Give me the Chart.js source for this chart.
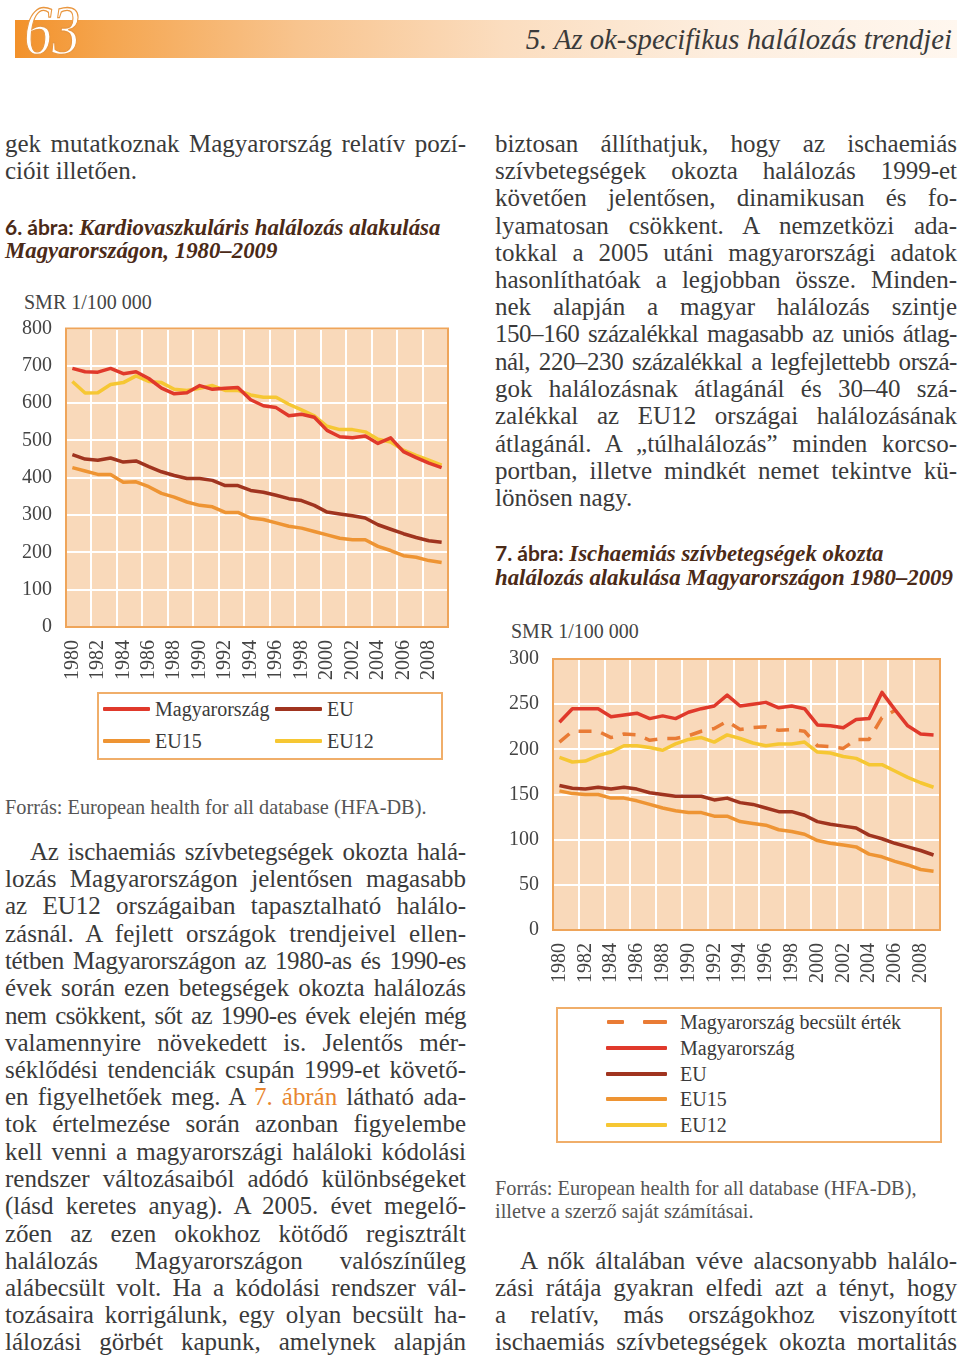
<!DOCTYPE html>
<html lang="hu">
<head>
<meta charset="utf-8">
<script src="https://cdn.jsdelivr.net/npm/chart.js@4.4.1/dist/chart.umd.min.js"></script>
<style>
  html,body{margin:0;padding:0;background:#fff;}
  body{width:960px;height:1361px;position:relative;overflow:hidden;font-family:"Liberation Serif",serif;color:#3a3a3a;}
  .abs{position:absolute;}
  .ln{position:absolute;font-size:25px;line-height:27px;height:27px;box-sizing:border-box;white-space:nowrap;}
  .o{color:#E8862E;}
  .cap{position:absolute;font-size:22.8px;line-height:24px;color:#4B2A17;font-weight:bold;font-style:italic;white-space:nowrap;}
  .cap .n{font-family:Lato,"Open Sans",sans-serif;font-style:normal;font-weight:700;font-size:21px;}
  .src{position:absolute;font-size:20.3px;line-height:23px;color:#555;white-space:nowrap;}
  .unit{position:absolute;font-size:20px;line-height:22px;color:#444;white-space:nowrap;}
  .legend{position:absolute;border:2px solid #F0AE6A;box-sizing:border-box;background:#fff;}
  .lg{position:absolute;font-size:20px;line-height:22px;color:#3a3a3a;white-space:nowrap;}
  .sw{position:absolute;height:4px;border-radius:1px;}
</style>
</head>
<body>
<!-- header -->
<div class="abs" style="left:15px;top:20px;width:942px;height:38px;background:linear-gradient(to right,#F2912A 0%,#F5A650 10%,#F8C48E 30%,#FBDDBF 52%,#FDEEDF 75%,#FFF7EF 100%);"></div>
<div class="abs" style="left:24px;top:-4px;font-size:70px;line-height:70px;font-style:italic;color:#fff;-webkit-text-stroke:1.3px #E9963F;transform:scaleX(0.8);transform-origin:left top;">63</div>
<div class="abs" style="right:8px;top:21px;font-size:28.7px;line-height:36px;font-style:italic;color:#3a3a3a;white-space:nowrap;">5. Az ok-specifikus halálozás trendjei</div>

<div class="cap" style="left:5px;top:215px;"><span class="n">6. ábra:</span> Kardiovaszkuláris halálozás alakulása</div>
<div class="cap" style="left:5px;top:239px;">Magyarországon, 1980–2009</div>
<div class="cap" style="left:495px;top:541px;"><span class="n">7. ábra:</span> Ischaemiás szívbetegségek okozta</div>
<div class="cap" style="left:495px;top:566px;">halálozás alakulása Magyarországon 1980–2009</div>

<div class="unit" style="left:24px;top:291px;">SMR 1/100 000</div>
<div class="unit" style="left:511px;top:620px;">SMR 1/100 000</div>

<div class="abs" style="left:0;top:310px;width:460px;height:380px;"><canvas id="c1" width="460" height="380"></canvas></div>
<div class="abs" style="left:495px;top:640px;width:460px;height:360px;"><canvas id="c2" width="460" height="360"></canvas></div>

<!-- legend 1 -->
<div class="legend" style="left:97px;top:692px;width:346px;height:68px;"></div>
<div class="sw" style="left:103px;top:707px;width:47px;background:#E0392B;"></div>
<div class="lg" style="left:155px;top:698px;">Magyarország</div>
<div class="sw" style="left:275px;top:707px;width:47px;background:#A0341F;"></div>
<div class="lg" style="left:327px;top:698px;">EU</div>
<div class="sw" style="left:103px;top:739px;width:47px;background:#EE9433;"></div>
<div class="lg" style="left:155px;top:730px;">EU15</div>
<div class="sw" style="left:275px;top:739px;width:47px;background:#F6C733;"></div>
<div class="lg" style="left:327px;top:730px;">EU12</div>

<!-- legend 2 -->
<div class="legend" style="left:556px;top:1007px;width:386px;height:136px;"></div>
<div class="sw" style="left:607px;top:1020px;width:17px;background:#E97B35;"></div>
<div class="sw" style="left:643px;top:1020px;width:24px;background:#E97B35;"></div>
<div class="lg" style="left:680px;top:1011px;">Magyarország becsült érték</div>
<div class="sw" style="left:606px;top:1046px;width:61px;background:#E0392B;"></div>
<div class="lg" style="left:680px;top:1037px;">Magyarország</div>
<div class="sw" style="left:606px;top:1072px;width:61px;background:#A0341F;"></div>
<div class="lg" style="left:680px;top:1063px;">EU</div>
<div class="sw" style="left:606px;top:1097px;width:61px;background:#EE9433;"></div>
<div class="lg" style="left:680px;top:1088px;">EU15</div>
<div class="sw" style="left:606px;top:1123px;width:61px;background:#F6C733;"></div>
<div class="lg" style="left:680px;top:1114px;">EU12</div>

<div class="src" style="left:5px;top:796px;">Forrás: European health for all database (HFA-DB).</div>
<div class="src" style="left:495px;top:1177px;">Forrás: European health for all database (HFA-DB),</div>
<div class="src" style="left:495px;top:1200px;">illetve a szerző saját számításai.</div>

<div id="text"></div>

<script>
// ---------- DATA ----------
const years = ['1980','1981','1982','1983','1984','1985','1986','1987','1988','1989',
               '1990','1991','1992','1993','1994','1995','1996','1997','1998','1999',
               '2000','2001','2002','2003','2004','2005','2006','2007','2008','2009'];
const tickLabels = ['1980','1982','1984','1986','1988','1990','1992','1994','1996','1998','2000','2002','2004','2006','2008'];

// Figure 6: cardiovascular mortality (SMR per 100 000)
const cvHungary = [693,684,683,693,679,684,666,640,625,628,647,637,640,642,609,593,588,566,570,562,527,510,507,512,492,507,470,454,439,427];
const cvEU      = [462,450,447,453,442,445,430,416,406,398,398,393,379,379,366,361,353,344,339,326,308,303,298,292,274,262,250,240,231,227];
const cvEU15    = [427,418,409,409,388,389,376,358,348,335,326,322,307,307,292,288,279,270,265,256,247,238,234,234,216,205,191,187,178,173];
const cvEU12    = [658,627,628,650,655,673,658,655,637,634,640,647,634,634,622,616,616,597,582,566,538,529,529,523,503,496,474,460,447,434];
const cvTicksY  = [0,100,200,300,400,500,600,700,800];

// Figure 7: ischaemic heart disease mortality (SMR per 100 000)
const ihdHungaryEst = [208,220,220,220,213,217,216,210,212,212,215,220,223,231,222,224,225,221,222,220,204,203,201,211,211,235,243,null,null,null];
const ihdHungary    = [230,245,245,245,236,238,240,234,237,234,241,245,248,260,248,250,252,246,248,245,227,226,224,233,234,263,244,226,217,216];
const ihdEU         = [160,157,156,158,156,158,156,152,150,148,148,148,144,146,141,139,135,131,131,127,120,117,115,113,105,101,96,92,88,83];
const ihdEU15       = [154,151,150,150,146,146,143,139,135,132,130,130,126,126,120,118,116,111,109,106,99,96,94,92,84,81,76,72,67,65];
const ihdEU12       = [191,186,187,193,197,204,204,202,199,206,211,213,208,216,212,207,204,206,206,208,197,196,192,190,183,183,176,169,163,158];
const ihdTicksY     = [0,50,100,150,200,250,300];

// ---------- STYLE ----------
const C = {red:'#E0392B', brown:'#A0341F', orange:'#EE9433', yellow:'#F6C733', est:'#E97B35',
           plot:'#F9D9BA', frame:'#EFA55A', grid:'#FFFFFF', tick:'#444'};
const TICK_FONT = {family:'"Liberation Serif", serif', size:20};

const framePlugin = {
  id:'frame',
  beforeDraw(chart){
    const {ctx, chartArea:a} = chart;
    ctx.save(); ctx.fillStyle = C.plot; ctx.fillRect(a.left, a.top, a.width, a.height); ctx.restore();
  },
  beforeDatasetsDraw(chart){
    const {ctx, chartArea:a} = chart;
    ctx.save(); ctx.strokeStyle = C.frame; ctx.lineWidth = 2;
    ctx.strokeRect(a.left, a.top, a.width, a.height); ctx.restore();
  }
};

function lineDs(label, data, color, extra){
  return Object.assign({label, data, borderColor:color, backgroundColor:color, borderWidth:3.5,
    pointRadius:0, tension:0, fill:false, borderJoinStyle:'round', spanGaps:false}, extra||{});
}

function makeChart(id, datasets, yMax, yStep, padTop, padRight, yWidth, xHeight){
  return new Chart(document.getElementById(id), {
    type:'line',
    data:{labels:years, datasets},
    options:{
      responsive:false, animation:false,
      layout:{padding:{top:padTop, right:padRight, left:0, bottom:0}},
      plugins:{legend:{display:false}, tooltip:{enabled:false}},
      scales:{
        x:{
          offset:true,
          grid:{offset:true, drawTicks:false, lineWidth:2,
                color:ctx => (ctx.index % 2 === 0 ? C.grid : 'rgba(0,0,0,0)')},
          border:{display:false},
          ticks:{autoSkip:false, maxRotation:90, minRotation:90, padding:13, color:C.tick, font:TICK_FONT,
                 callback:(v, i) => (tickLabels.includes(years[i]) ? years[i] : '')},
          afterFit:s => { s.height = xHeight; s.paddingLeft = 0; s.paddingRight = 0; }
        },
        y:{
          min:0, max:yMax,
          grid:{drawTicks:false, lineWidth:2, color:C.grid},
          border:{display:false},
          ticks:{stepSize:yStep, padding:14, color:C.tick, font:TICK_FONT},
          afterFit:s => { s.width = yWidth; s.paddingTop = 0; s.paddingBottom = 0; }
        }
      }
    },
    plugins:[framePlugin]
  });
}

makeChart('c1', [
  lineDs('Magyarország', cvHungary, C.red, {order:0}),
  lineDs('EU12', cvEU12, C.yellow, {order:1}),
  lineDs('EU', cvEU, C.brown, {order:2}),
  lineDs('EU15', cvEU15, C.orange, {order:3})
], cvTicksY[cvTicksY.length-1], cvTicksY[1]-cvTicksY[0], 18.5, 12, 66, 63);

makeChart('c2', [
  lineDs('Magyarország', ihdHungary, C.red, {order:0}),
  lineDs('Magyarország becsült érték', ihdHungaryEst, C.est, {order:1, borderDash:[13,10], borderCapStyle:'butt'}),
  lineDs('EU12', ihdEU12, C.yellow, {order:2}),
  lineDs('EU', ihdEU, C.brown, {order:3}),
  lineDs('EU15', ihdEU15, C.orange, {order:4})
], ihdTicksY[ihdTicksY.length-1], ihdTicksY[1]-ihdTicksY[0], 19, 15, 58, 70);

// ---------- BODY TEXT ----------
const leftTop = [
  [147,'gek mutatkoznak Magyarország relatív pozí-','j',0],
  [174,'cióit illetően.','l',0]
];
const leftPara = [
  [855,'Az ischaemiás szívbetegségek okozta halá-','j',25],
  [882,'lozás Magyarországon jelentősen magasabb','j',0],
  [909,'az EU12 országaiban tapasztalható halálo-','j',0],
  [937,'zásnál. A fejlett országok trendjeivel ellen-','j',0],
  [964,'tétben Magyarországon az 1980-as és 1990-es','j',0],
  [991,'évek során ezen betegségek okozta halálozás','j',0],
  [1019,'nem csökkent, sőt az 1990-es évek elején még','j',0],
  [1046,'valamennyire növekedett is. Jelentős mér-','j',0],
  [1073,'séklődési tendenciák csupán 1999-et követő-','j',0],
  [1100,'en figyelhetőek meg. A <span class="o">7. ábrán</span> látható ada-','j',0],
  [1127,'tok értelmezése során azonban figyelembe','j',0],
  [1155,'kell venni a magyarországi haláloki kódolási','j',0],
  [1182,'rendszer változásaiból adódó különbségeket','j',0],
  [1209,'(lásd keretes anyag). A 2005. évet megelő-','j',0],
  [1237,'zően az ezen okokhoz kötődő regisztrált','j',0],
  [1264,'halálozás Magyarországon valószínűleg','j',0],
  [1291,'alábecsült volt. Ha a kódolási rendszer vál-','j',0],
  [1318,'tozásaira korrigálunk, egy olyan becsült ha-','j',0],
  [1345,'lálozási görbét kapunk, amelynek alapján','j',0]
];
const rightTop = [
  [147,'biztosan állíthatjuk, hogy az ischaemiás','j',0],
  [174,'szívbetegségek okozta halálozás 1999-et','j',0],
  [201,'követően jelentősen, dinamikusan és fo-','j',0],
  [229,'lyamatosan csökkent. A nemzetközi ada-','j',0],
  [256,'tokkal a 2005 utáni magyarországi adatok','j',0],
  [283,'hasonlíthatóak a legjobban össze. Minden-','j',0],
  [310,'nek alapján a magyar halálozás szintje','j',0],
  [337,'150–160 százalékkal magasabb az uniós átlag-','j',0],
  [365,'nál, 220–230 százalékkal a legfejlettebb orszá-','j',0],
  [392,'gok halálozásnak átlagánál és 30–40 szá-','j',0],
  [419,'zalékkal az EU12 országai halálozásának','j',0],
  [447,'átlagánál. A „túlhalálozás” minden korcso-','j',0],
  [474,'portban, illetve mindkét nemet tekintve kü-','j',0],
  [501,'lönösen nagy.','l',0]
];
const rightPara = [
  [1264,'A nők általában véve alacsonyabb halálo-','j',25],
  [1291,'zási rátája gyakran elfedi azt a tényt, hogy','j',0],
  [1318,'a relatív, más országokhoz viszonyított','j',0],
  [1345,'ischaemiás szívbetegségek okozta mortalitás','j',0]
];

const host = document.getElementById('text');
function addLines(x, w, lines){
  lines.forEach(([y, html, mode, indent]) => {
    const d = document.createElement('div');
    d.className = 'ln';
    d.style.left = x + 'px'; d.style.top = (y - 17) + 'px'; d.style.width = w + 'px';
    d.style.paddingLeft = indent + 'px';
    d.innerHTML = '<span>' + html + '</span>';
    host.appendChild(d);
    if (mode === 'j') {
      const sp = d.firstChild;
      const nat = sp.getBoundingClientRect().width;
      const avail = w - indent;
      const spaces = (sp.textContent.match(/ /g) || []).length;
      const minNat = avail - spaces * 3;
      if (nat > minNat) {
        const n = sp.textContent.length;
        d.style.letterSpacing = ((minNat - nat) / n) + 'px';
      }
      d.style.whiteSpace = 'normal';
      d.style.textAlign = 'justify';
      d.style.textAlignLast = 'justify';
    }
  });
}
addLines(5, 461, leftTop);
addLines(5, 461, leftPara);
addLines(495, 462, rightTop);
addLines(495, 462, rightPara);
</script>
</body>
</html>
